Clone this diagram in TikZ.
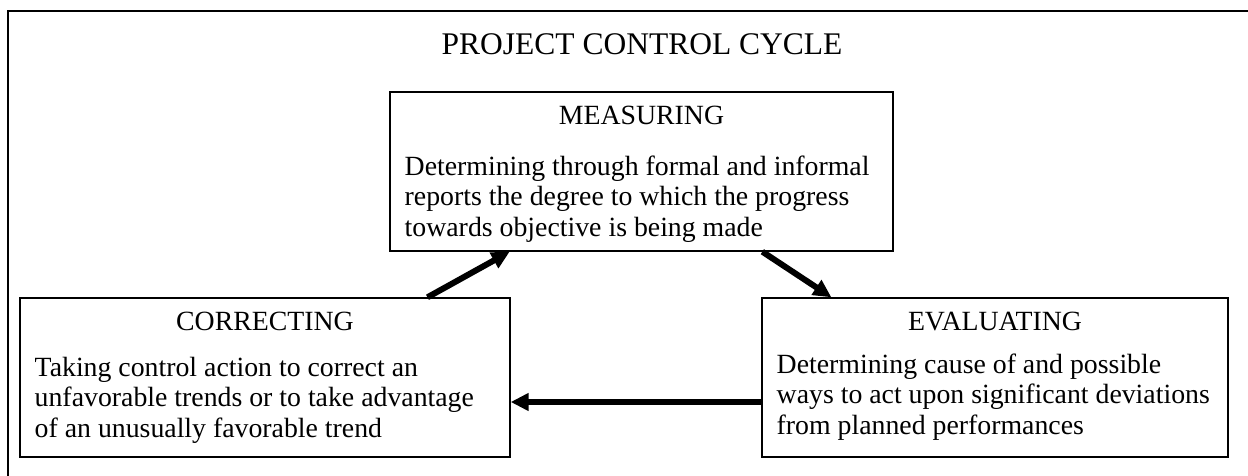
\documentclass[tikz,border=0pt]{standalone}
\usepackage{fontspec}
\setmainfont{Liberation Serif}
\usetikzlibrary{arrows.meta,calc}

\tikzset{
  stagebox/.style={draw=black, line width=0.7pt, rectangle, inner sep=0pt},
  heading/.style={anchor=base, inner sep=0pt, font=\fontsize{13.9}{15.25}\selectfont},
  body/.style={anchor=base west, inner sep=0pt, font=\fontsize{13.9}{15.25}\selectfont},
  titletext/.style={anchor=base, inner sep=0pt, font=\fontsize{15.75}{18}\selectfont},
  frame/.style={draw=black, line width=0.9pt},
  flow/.style={line width=3pt, -{Triangle[length=9pt,width=8.5pt]}}
}
\newcommand{\bodylines}[1]{\begin{tabular}[t]{@{}l@{}}#1\end{tabular}}

\begin{document}
\begin{tikzpicture}[x=0.5pt, y=-0.5pt]
  \useasboundingbox (0,0) rectangle (1248,476);

  % surrounding frame (only its left and top sides fall on the page)
  \draw[frame] (8,476) -- (8,11) -- (1248,11);

  \node[titletext] (title) at (642,55) {PROJECT CONTROL CYCLE};

  % the three stages of the cycle
  \node[stagebox, minimum width=251.5pt, minimum height=79.5pt] (meas) at (641.5,171.5) {};
  \node[stagebox, minimum width=245pt,   minimum height=79.5pt] (corr) at (265,377.5) {};
  \node[stagebox, minimum width=233pt,   minimum height=79.5pt] (eval) at (995,377.5) {};

  \node[heading] (meash) at ([yshift=-16.75pt]meas.north) {MEASURING};
  \node[heading] (corrh) at ([yshift=-16.75pt]corr.north) {CORRECTING};
  \node[heading] (evalh) at ([yshift=-16.75pt]eval.north) {EVALUATING};

  \node[body] (measb) at ([xshift=7.5pt, yshift=-42pt]meas.north west)
    {\bodylines{Determining through formal and informal\\
                reports the degree to which the progress\\
                towards objective is being made}};
  \node[body] (corrb) at ([xshift=7.5pt, yshift=-39.5pt]corr.north west)
    {\bodylines{Taking control action to correct an\\
                unfavorable trends or to take advantage\\
                of an unusually favorable trend}};
  \node[body] (evalb) at ([xshift=7.5pt, yshift=-38pt]eval.north west)
    {\bodylines{Determining cause of and possible\\
                ways to act upon significant deviations\\
                from planned performances}};

  % cycle arrows
  \coordinate (a1s) at ($(corr.north west)!0.8306!(corr.north east)$);
  \coordinate (a1e) at ($(meas.south west)!0.2386!(meas.south east)$);
  \coordinate (a2s) at ($(meas.south west)!0.7396!(meas.south east)$);
  \coordinate (a2e) at ($(eval.north west)!0.150!(eval.north east)$);
  \coordinate (a3s) at ([yshift=-12.25pt]eval.west);

  \draw[flow] (a1s) -- (a1e);
  \draw[flow] (a2s) -- (a2e);
  \draw[flow] (a3s) -- (corr.east |- a3s);
\end{tikzpicture}
\end{document}
